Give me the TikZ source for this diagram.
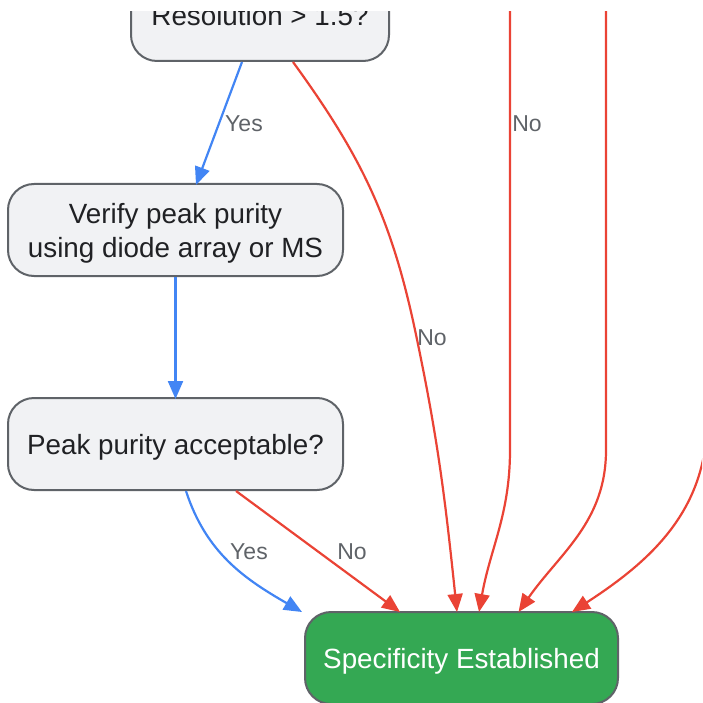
\documentclass[tikz,border=0pt]{standalone}
\usepackage{fontspec}
\setmainfont{Liberation Sans}
\usetikzlibrary{arrows.meta}
\definecolor{boxfill}{HTML}{F1F2F4}
\definecolor{boxline}{HTML}{5F6368}
\definecolor{txt}{HTML}{202124}
\definecolor{gok}{HTML}{34A853}
\definecolor{bl}{HTML}{4285F4}
\definecolor{rd}{HTML}{EA4335}
\definecolor{lbl}{HTML}{5F6368}
\tikzset{
  box/.style={draw=boxline, line width=2pt, fill=boxfill, rounded corners=26pt,
    text=txt, align=center, font=\fontsize{27.8}{34}\selectfont,
    minimum height=92pt, inner sep=0pt, text depth=0pt, yshift=0pt},
  okbox/.style={box, fill=gok, text=white},
  edge/.style={line width=2.2pt, -{Triangle[length=18pt,width=15pt]}},
  yes/.style={edge, draw=bl},
  no/.style={edge, draw=rd},
  elabel/.style={text=lbl, font=\fontsize{23}{27}\selectfont, inner sep=0pt},
}
\begin{document}
\begin{tikzpicture}[x=1pt,y=-1pt]
\useasboundingbox (0,0) rectangle (702,703);
\clip (0,12) rectangle (702,703);
\node[box, minimum width=258pt] (res) at (260,15) {Resolution > 1.5?};
\node[box, minimum width=335pt] (ver) at (175.5,230) {Verify peak purity\\using diode array or MS};
\node[box, minimum width=335pt] (pk) at (175.5,444) {Peak purity acceptable?};
\node[okbox, minimum width=313pt] (spec) at (461.5,658) {Specificity Established};

\coordinate (m1) at (415,330);
\coordinate (t1) at (510,5);
\coordinate (b1) at (510,450);
\coordinate (t2) at (606,5);
\coordinate (b2) at (606,450);
\coordinate (t3) at (707,380);
\coordinate (b3) at (707,420);

\draw[yes] ([xshift=-18pt]res.south) -- ([xshift=20.5pt,yshift=-2pt]ver.north);
\draw[no] ([xshift=33pt]res.south) to[out=-54,in=102] (m1) to[out=-78,in=96] ([xshift=-4.5pt,yshift=-1pt]spec.north);
\draw[yes] (ver.south) -- ([yshift=-2pt]pk.north);
\draw[yes] ([xshift=10.5pt]pk.south) to[out=-72,in=150] ([xshift=-2pt,yshift=-1pt]spec.north west);
\draw[no] ([xshift=60.5pt]pk.south) -- ([xshift=-61.5pt,yshift=-1pt]spec.north);
\draw[no] (t1) -- (b1) to[out=-90,in=80] ([xshift=17.5pt,yshift=-1pt]spec.north);
\draw[no] (t2) -- (b2) to[out=-90,in=55] ([xshift=57pt,yshift=-1pt]spec.north);
\draw[no] (t3) -- (b3) to[out=-90,in=33] ([xshift=110.5pt,yshift=-1pt]spec.north);

\node[elabel] (l1) at (244,124) {Yes};
\node[elabel] (l2) at (432,338) {No};
\node[elabel] (l3) at (527,124) {No};
\node[elabel] (l4) at (249,552) {Yes};
\node[elabel] (l5) at (352,552) {No};
\end{tikzpicture}
\end{document}
